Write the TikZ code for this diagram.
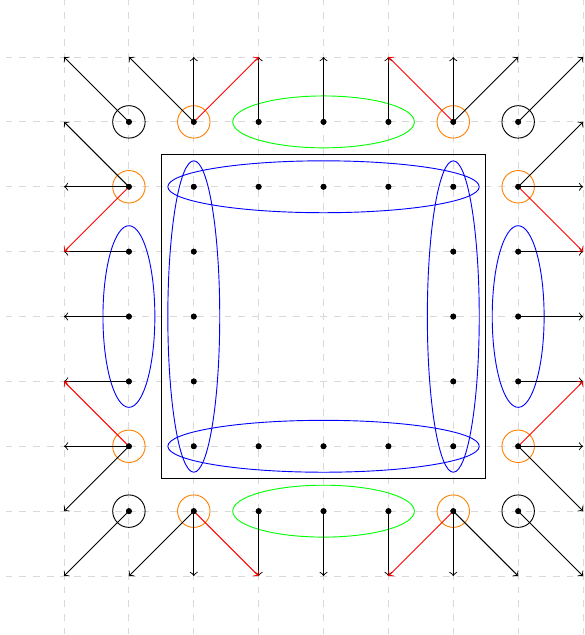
\documentclass[tikz,border=0pt]{standalone}
\usetikzlibrary{arrows}
\begin{document}
\begin{tikzpicture}[
  gridline/.style={gray!30, dashed},
  dot/.style={circle, fill=black, inner sep=0pt, minimum size=0.09cm},
  arr/.style={->, black},
  redarr/.style={->, red},
  ring/.style={radius=0.25},
]
\useasboundingbox (-4.987,-4.909) rectangle (4.015,4.879);
\begin{scope}
\clip (-4.987,-4.909) rectangle (4.015,4.879);
\foreach \k in {-4,...,4} {
  \draw[gridline] (\k,-4.9) -- (\k,4.9);
  \draw[gridline] (-4.9,\k) -- (4.9,\k);
}
\end{scope}

% grid coordinates, indexed 0..8 from the lower left
\foreach \c in {0,...,8}
  \foreach \r in {0,...,8}
    \coordinate (g\c\r) at (\c-4,\r-4);

% inner frame and groupings
\draw (-2.5,-2.5) rectangle (2.5,2.5);
\draw[blue] (g46) ellipse [x radius=2.4, y radius=0.4];
\draw[blue] (g42) ellipse [x radius=2.4, y radius=0.4];
\draw[blue] (g24) ellipse [x radius=0.4, y radius=2.4];
\draw[blue] (g64) ellipse [x radius=0.4, y radius=2.4];
\draw[blue] (g14) ellipse [x radius=0.4, y radius=1.4];
\draw[blue] (g74) ellipse [x radius=0.4, y radius=1.4];
\draw[green] (g47) ellipse [x radius=1.4, y radius=0.4];
\draw[green] (g41) ellipse [x radius=1.4, y radius=0.4];

% marked points
\foreach \p in {17,77,11,71}
  \draw[black] (g\p) circle [ring];
\foreach \p in {27,67,21,61,16,76,12,72}
  \draw[orange] (g\p) circle [ring];

% points of the lattice (the centre block is left empty)
\foreach \c in {1,...,7}
  \foreach \r in {1,...,7} {
    \pgfmathtruncatemacro{\inner}{and(abs(\c-4)<2, abs(\r-4)<2)}
    \ifnum\inner=0
      \node[dot] (p\c\r) at (g\c\r) {};
    \fi
  }

% outward moves
\foreach \a/\b in {17/08, 27/18, 27/28, 37/38, 47/48, 57/58, 67/68, 67/78, 77/88,
                   11/00, 21/10, 21/20, 31/30, 41/40, 51/50, 61/60, 61/70, 71/80,
                   16/07, 16/06, 15/05, 14/04, 13/03, 12/02, 12/01,
                   76/87, 76/86, 75/85, 74/84, 73/83, 72/82, 72/81}
  \draw[arr] (p\a.center) -- (g\b);
\foreach \a/\b in {27/38, 67/58, 21/30, 61/50, 16/05, 12/03, 76/85, 72/83}
  \draw[redarr] (p\a.center) -- (g\b);

% redraw the points on top of the arrows
\foreach \c in {1,...,7}
  \foreach \r in {1,...,7} {
    \pgfmathtruncatemacro{\inner}{and(abs(\c-4)<2, abs(\r-4)<2)}
    \ifnum\inner=0
      \fill (p\c\r.center) circle [radius=0.045];
    \fi
  }
\end{tikzpicture}
\end{document}
